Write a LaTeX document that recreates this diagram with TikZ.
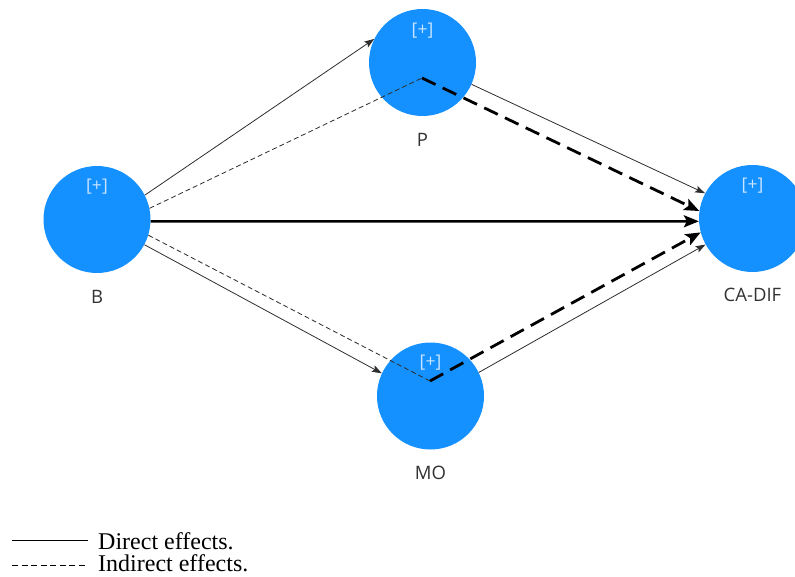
\documentclass[tikz,border=0pt]{standalone}
\usepackage{fontspec}
\setmainfont{Liberation Serif}
\newfontfamily\labfont{Open Sans}
\usetikzlibrary{arrows.meta}
\definecolor{nodeblue}{RGB}{20,144,255}
\definecolor{plusc}{RGB}{200,228,255}
\definecolor{linec}{RGB}{45,45,45}
\definecolor{labc}{RGB}{50,50,50}
\begin{document}
\begin{tikzpicture}[x=1pt,y=-1pt,
  latent/.style={circle,fill=nodeblue,minimum size=107pt,inner sep=0pt},
  plus/.style={text=plusc,inner sep=0pt,font=\labfont\fontsize{17.5}{17.5}\selectfont},
  lab/.style={text=labc,inner sep=0pt,font=\labfont\fontsize{18.5}{18.5}\selectfont},
  direct/.style={draw=linec,line width=0.8pt,-{Stealth[length=10pt,width=7pt,inset=2pt]}},
  indirect/.style={draw=linec,line width=0.8pt,dash pattern=on 5pt off 3pt},
  bigdirect/.style={draw=black,line width=2.4pt,-{Stealth[length=15pt,width=12pt,inset=3pt]}},
  bigindirect/.style={draw=black,line width=2.8pt,dash pattern=on 15pt off 8pt,-{Stealth[length=15pt,width=12pt,inset=3pt]}},
  legtext/.style={inner sep=0pt,anchor=base west,font=\fontsize{24}{24}\selectfont}
]
\useasboundingbox (0,0) rectangle (795,577);
\begin{scope}
\clip (0,0) rectangle (795,577);
\node[latent] (B) at (97,219.5) {};
\node[latent] (P) at (422.5,62.5) {};
\node[latent] (M) at (430.5,396) {};
\node[latent] (C) at (752.5,218.5) {};
\node[plus] (Bp) at (97,187) {[+]};
\node[plus] (Pp) at (422.5,31) {[+]};
\node[plus] (Mp) at (430.5,363) {[+]};
\node[plus] (Cp) at (752.5,186) {[+]};
\node[lab] (Bl) at (97,297) {B};
\node[lab] (Pl) at (422.5,140) {P};
\node[lab] (Ml) at (430.5,473) {MO};
\node[lab] (Cl) at (752.5,295) {CA-DIF};
\coordinate (Pin) at (422,78);
\coordinate (Min) at (430,381);
% direct effects
\draw[direct] (B.27) -- (P.154);
\draw[direct] (B.-28) -- (M.155);
\draw[direct] (P.-24) -- (C.152);
\draw[direct] (M.26) -- (C.209);
\draw[bigdirect] (B.-2) -- (C.183);
% indirect effects
\draw[indirect] (B.12) -- (Pin);
\draw[indirect] (B.-17) -- (Min);
\draw[bigindirect] (Pin) -- (C.172);
\draw[bigindirect] (Min) -- (C.195);
\end{scope}
% legend
\coordinate (L1a) at (12,540.5);
\coordinate (L1b) at (88,540.5);
\coordinate (L2a) at (12,565.5);
\coordinate (L2b) at (88,565.5);
\draw[black,line width=0.9pt] (L1a) -- (L1b);
\draw[black,line width=0.8pt,dash pattern=on 6pt off 3.5pt] (L2a) -- (L2b);
\node[legtext] (T1) at (98,549) {Direct effects.};
\node[legtext] (T2) at (98,571.5) {Indirect effects.};
\end{tikzpicture}
\end{document}
